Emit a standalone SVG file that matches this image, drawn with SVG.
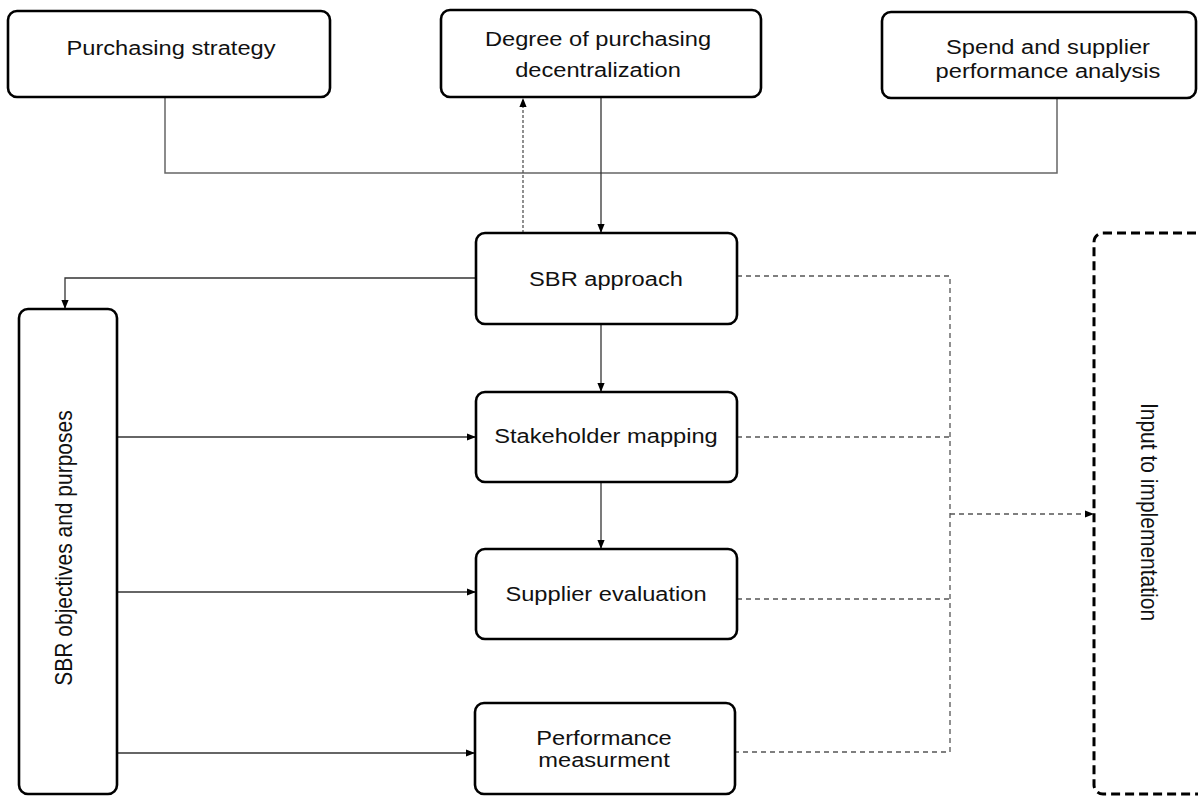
<svg xmlns="http://www.w3.org/2000/svg" width="1198" height="796" viewBox="0 0 1198 796">
<style>
.box{fill:#fff;stroke:#000;stroke-width:2.6}
.dbox{fill:#fff;stroke:#000;stroke-width:3;stroke-dasharray:9 5}
.t{font-family:"Liberation Sans",Arial,sans-serif;font-size:21px;fill:#111;text-anchor:middle}
.c{fill:none;stroke:#333;stroke-width:1.3}
.cg{fill:none;stroke:#666;stroke-width:1.5}
.dash{fill:none;stroke:#555;stroke-width:1.3;stroke-dasharray:5 4}
.dot{fill:none;stroke:#555;stroke-width:1.3;stroke-dasharray:3 2}
</style>
<defs>
<marker id="ah" viewBox="0 0 10 10" refX="10" refY="5" markerWidth="9" markerHeight="9" markerUnits="userSpaceOnUse" orient="auto"><path d="M0,1 L10,5 L0,9 z" fill="#000"/></marker>
</defs>
<rect width="1198" height="796" fill="#fff"/>
<g id="connectors">
<path class="cg" d="M165,97 V173 H1057 V98"/>
<path class="c" d="M601,97 V233" marker-end="url(#ah)"/>
<path class="dot" d="M523,233 V98" marker-end="url(#ah)"/>
<path class="c" d="M476,278 H65 V309" marker-end="url(#ah)"/>
<path class="c" d="M601,324 V392" marker-end="url(#ah)"/>
<path class="c" d="M601,482 V549" marker-end="url(#ah)"/>
<path class="c" d="M117,437 H476" marker-end="url(#ah)"/>
<path class="c" d="M117,592 H476" marker-end="url(#ah)"/>
<path class="c" d="M117,753 H475" marker-end="url(#ah)"/>
<path class="dash" d="M737,276 H950 V752 H735"/>
<path class="dash" d="M737,437 H950"/>
<path class="dash" d="M737,599 H950"/>
<path class="dash" d="M950,514 H1094" marker-end="url(#ah)"/>
</g>
<g id="purchasing-strategy">
<rect class="box" x="8" y="11" width="322" height="86" rx="9"/>
<text class="t" transform="translate(171 55) scale(1.127 1)">Purchasing strategy</text>
</g>
<g id="degree-decentralization">
<rect class="box" x="441" y="10" width="320" height="87" rx="9"/>
<text class="t" transform="translate(598 46) scale(1.127 1)">Degree of purchasing</text>
<text class="t" transform="translate(598 77) scale(1.127 1)">decentralization</text>
</g>
<g id="spend-analysis">
<rect class="box" x="882" y="12" width="314" height="86" rx="9"/>
<text class="t" transform="translate(1048 54) scale(1.127 1)">Spend and supplier</text>
<text class="t" transform="translate(1048 78) scale(1.127 1)">performance analysis</text>
</g>
<g id="sbr-approach">
<rect class="box" x="476" y="233" width="261" height="91" rx="9"/>
<text class="t" transform="translate(606 286) scale(1.127 1)">SBR approach</text>
</g>
<g id="stakeholder-mapping">
<rect class="box" x="476" y="392" width="261" height="90" rx="9"/>
<text class="t" transform="translate(606 443) scale(1.127 1)">Stakeholder mapping</text>
</g>
<g id="supplier-evaluation">
<rect class="box" x="476" y="549" width="261" height="90" rx="9"/>
<text class="t" transform="translate(606 601) scale(1.127 1)">Supplier evaluation</text>
</g>
<g id="performance-measurment">
<rect class="box" x="475" y="703" width="260" height="91" rx="9"/>
<text class="t" transform="translate(604 745) scale(1.127 1)">Performance</text>
<text class="t" transform="translate(604 767) scale(1.127 1)">measurment</text>
</g>
<g id="sbr-objectives">
<rect class="box" x="19" y="309" width="98" height="485" rx="9"/>
<text class="t" transform="translate(72 548) scale(1.127 1) rotate(-90)">SBR objectives and purposes</text>
</g>
<g id="input-implementation">
<rect class="dbox" x="1094" y="233" width="112" height="561" rx="9"/>
<text class="t" transform="translate(1141 512) scale(1.127 1) rotate(90)">Input to implementation</text>
</g>
</svg>
